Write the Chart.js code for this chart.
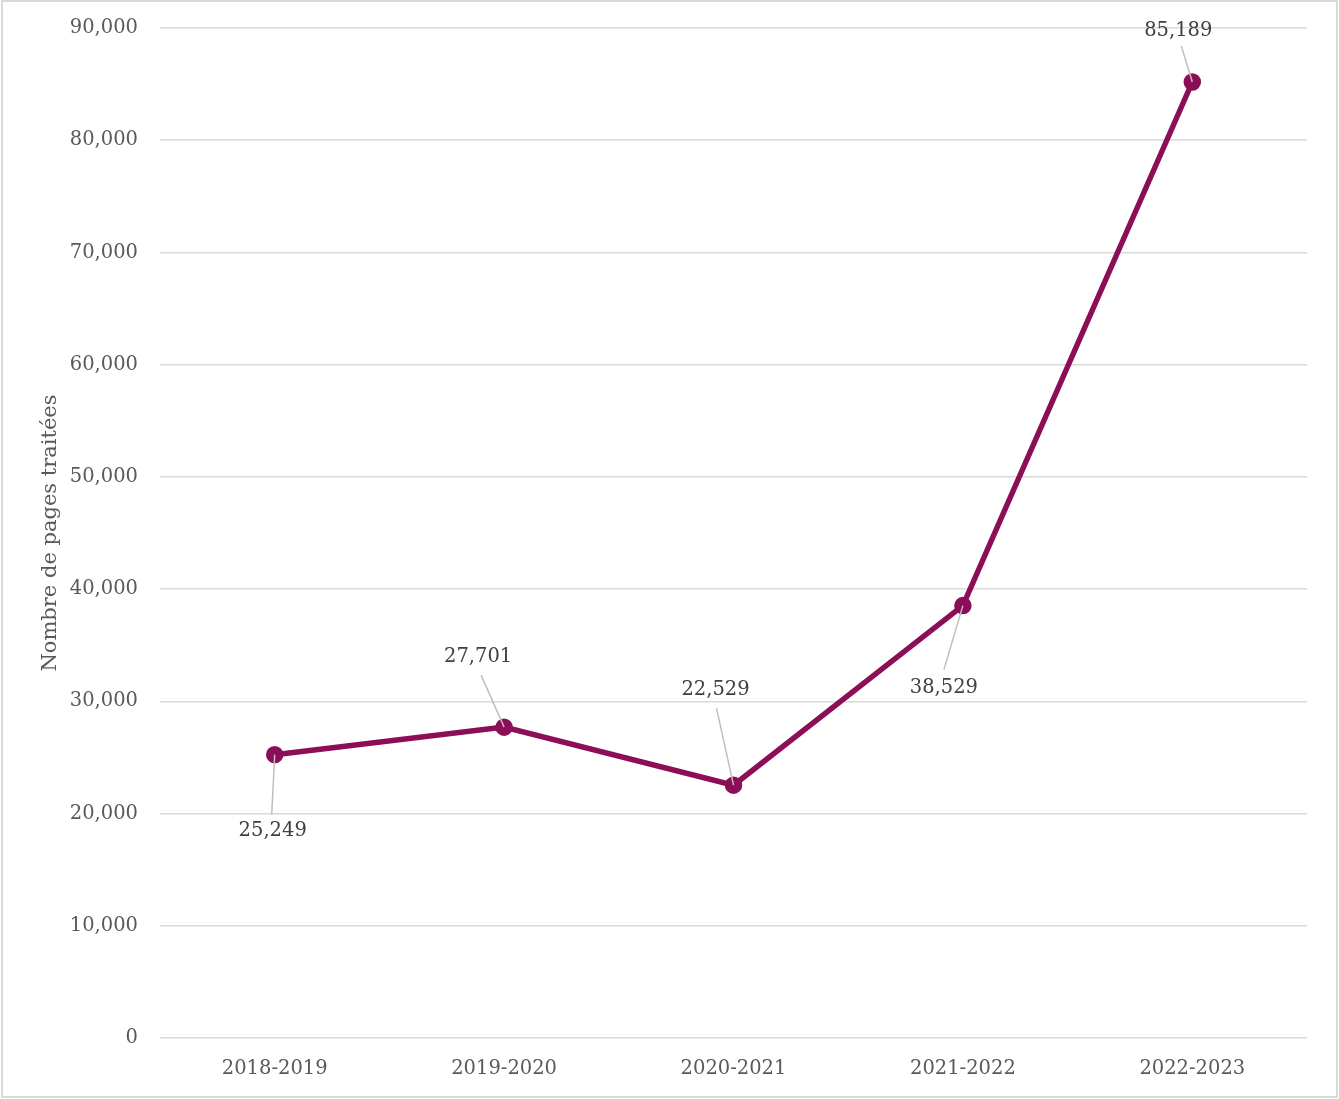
<!DOCTYPE html>
<html>
<head>
<meta charset="utf-8">
<script src="https://cdn.jsdelivr.net/npm/chart.js@4"></script>
<style>
  body { margin: 0; background: #fff; }
  #wrap { width: 1339px; height: 1099px; }
</style>
</head>
<body>
<div id="wrap"><canvas id="graph"></canvas></div>
<script>
let years = ["2018-2019", "2019-2020", "2020-2021", "2021-2022", "2022-2023"];
let pages = [25249, 27701, 22529, 38529, 85189];
let yTicks = [0, 10000, 20000, 30000, 40000, 50000, 60000, 70000, 80000, 90000];

// where each value label sits relative to its point (label centre, leader end)
let labelPos = [
    { dx: -2, dy: 76, lx: -3, ly: 60 },
    { dx: -26, dy: -70, lx: -23, ly: -52 },
    { dx: -18, dy: -95, lx: -17, ly: -77 },
    { dx: -19, dy: 82, lx: -19, ly: 64 },
    { dx: -14, dy: -51, lx: -11, ly: -36 }
];

let serif = "'DejaVu Serif', serif";
let fmt = v => v.toLocaleString('en-US');

let frame = {
    id: 'frame',
    beforeDraw(chart) {
        let c = chart.ctx;
        c.save();
        c.fillStyle = '#fff';
        c.fillRect(0, 0, chart.width, chart.height);
        c.strokeStyle = '#d9d9d9';
        c.lineWidth = 2;
        c.strokeRect(2, 1, chart.width - 4, chart.height - 3);
        c.restore();
    }
};

let valueLabels = {
    id: 'valueLabels',
    afterDatasetsDraw(chart) {
        let c = chart.ctx;
        let pts = chart.getDatasetMeta(0).data;
        c.save();
        pts.forEach((p, i) => {
            let o = labelPos[i];
            c.strokeStyle = '#bfbfbf';
            c.lineWidth = 1.5;
            c.beginPath();
            c.moveTo(p.x, p.y);
            c.lineTo(p.x + o.lx, p.y + o.ly);
            c.stroke();
            c.fillStyle = '#404040';
            c.font = '19.5px ' + serif;
            c.textAlign = 'center';
            c.textBaseline = 'middle';
            c.fillText(fmt(pages[i]), p.x + o.dx, p.y + o.dy);
        });
        c.restore();
    }
};

let graph = document.getElementById('graph').getContext('2d');
let stat = new Chart(graph, {
    type: 'line',
    data: {
        labels: years,
        datasets: [{
            data: pages,
            borderColor: '#8b0e57',
            backgroundColor: '#8b0e57',
            borderWidth: 5.5,
            pointRadius: 6,
            pointHoverRadius: 6,
            tension: 0
        }]
    },
    options: {
        responsive: true,
        maintainAspectRatio: false,
        animation: false,
        layout: { padding: { left: 34, top: 28, right: 32, bottom: 0 } },
        plugins: {
            legend: { display: false },
            tooltip: { enabled: false }
        },
        scales: {
            x: {
                offset: true,
                grid: { display: false, drawTicks: false },
                border: { display: false },
                ticks: { color: '#595959', font: { family: serif, size: 19.5 }, padding: 19 },
                afterFit(s) { s.height = 61; s.paddingLeft = 0; s.paddingRight = 0; }
            },
            y: {
                min: 0,
                max: 90000,
                afterBuildTicks(s) { s.ticks = yTicks.map(v => ({ value: v })); },
                grid: { color: '#d9d9d9', lineWidth: 1.5, drawTicks: false },
                border: { display: false },
                ticks: { color: '#595959', font: { family: serif, size: 19.5 }, padding: 22, callback: v => fmt(v) },
                title: { display: true, text: 'Nombre de pages traitées', color: '#595959', font: { family: serif, size: 21 } },
                afterFit(s) { s.width = 126; s.paddingTop = 0; s.paddingBottom = 0; }
            }
        }
    },
    plugins: [frame, valueLabels]
});
</script>
</body>
</html>
